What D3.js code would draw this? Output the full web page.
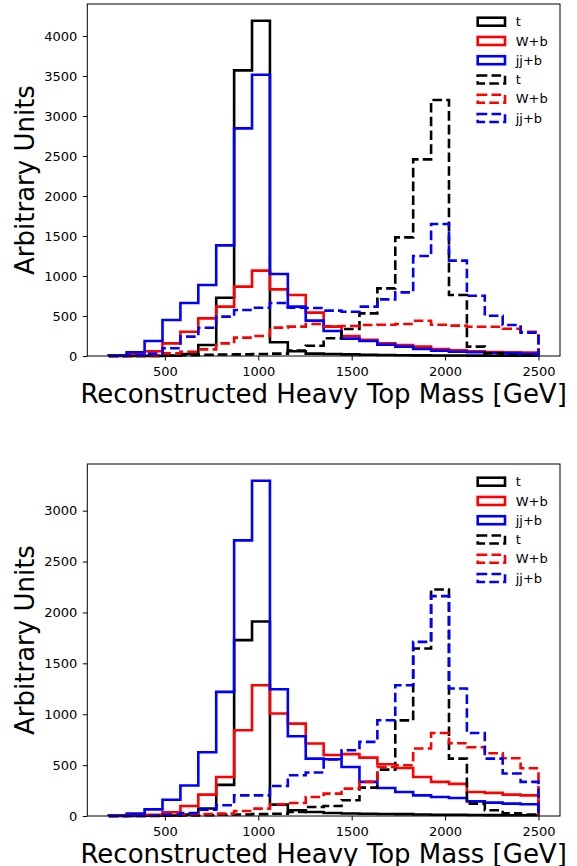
<!DOCTYPE html>
<html>
<head>
<meta charset="utf-8">
<script src="https://cdn.jsdelivr.net/npm/d3@7"></script>
<style>
  html, body { margin: 0; padding: 0; background: #fff; }
  svg { display: block; font-family: "DejaVu Sans", sans-serif; }
</style>
</head>
<body>
<svg id="chart" width="577" height="866"></svg>
<script>
// ---- binning ----
const xMin = 200, xMax = 2500, nBins = 24;
const xTicks = [500, 1000, 1500, 2000, 2500];
const yTicksTop = [0, 500, 1000, 1500, 2000, 2500, 3000, 3500, 4000];
const yTicksBottom = [0, 500, 1000, 1500, 2000, 2500, 3000];
const seriesLabels = ["t", "W+b", "jj+b", "t", "W+b", "jj+b"];

// ---- top panel (counts per bin) ----
const topT    = [0, 0, 2, 5, 25, 137, 729, 3571, 4191, 171, 60, 30, 25, 20, 15, 12, 10, 8, 7, 6, 5, 4, 3, 3];
const topWb   = [5, 30, 60, 158, 304, 471, 617, 867, 1067, 833, 762, 542, 367, 250, 204, 158, 137, 117, 87, 71, 58, 50, 46, 42];
const topJjb  = [10, 46, 187, 450, 662, 887, 1383, 2846, 3517, 1025, 617, 442, 312, 217, 187, 142, 117, 87, 67, 54, 46, 37, 33, 29];
const topTd   = [0, 0, 0, 5, 10, 15, 18, 20, 25, 30, 67, 129, 221, 337, 533, 846, 1483, 2458, 3200, 762, 117, 33, 10, 5];
const topWbd  = [0, 0, 5, 33, 54, 83, 158, 230, 250, 355, 367, 400, 370, 375, 387, 390, 400, 440, 390, 380, 365, 365, 340, 304];
const topJjbd = [0, 10, 30, 96, 242, 354, 492, 575, 604, 662, 604, 600, 567, 554, 617, 708, 796, 1250, 1650, 1192, 754, 504, 387, 292];

// ---- bottom panel ----
const botT    = [0, 0, 2, 5, 15, 73, 306, 1728, 1911, 112, 56, 39, 30, 25, 22, 20, 18, 15, 13, 12, 10, 9, 8, 7];
const botWb   = [2, 7, 13, 37, 98, 210, 383, 842, 1285, 1007, 908, 712, 600, 608, 574, 509, 472, 383, 335, 316, 236, 227, 210, 203];
const botJjb  = [5, 23, 65, 160, 299, 626, 1220, 2708, 3294, 1246, 784, 564, 557, 482, 335, 275, 236, 203, 187, 177, 144, 131, 122, 115];
const botTd   = [0, 0, 0, 2, 5, 8, 12, 15, 18, 22, 39, 88, 98, 155, 279, 456, 940, 1646, 2226, 564, 122, 56, 27, 15];
const botWbd  = [0, 2, 5, 10, 17, 20, 23, 49, 72, 115, 128, 187, 220, 269, 335, 482, 498, 663, 816, 715, 675, 616, 567, 469];
const botJjbd = [0, 2, 5, 15, 30, 63, 105, 203, 203, 295, 400, 427, 555, 646, 728, 941, 1285, 1711, 2160, 1253, 816, 564, 417, 335];

// ---- styling ----
const colors = ["#000000", "#ff0000", "#0000ff", "#000000", "#ff0000", "#0000ff"];
const dashed = [false, false, false, true, true, true];
const LW = 2.6;
const DASH = "9.6,4.2";
const FONT_TICK = 13, FONT_LABEL = 26;

const svg = d3.select("#chart");
const binW = (xMax - xMin) / nBins;
const edges = d3.range(nBins + 1).map(i => xMin + i * binW);

const left = 87.3, right = 560;
const pad = (xMax - xMin) * 0.05;
const x = d3.scaleLinear().domain([xMin - pad, xMax + pad]).range([left, right]);

const panels = [
  { top: 4, bottom: 356, yTicks: yTicksTop, series: [topT, topWb, topJjb, topTd, topWbd, topJjbd] },
  { top: 464, bottom: 816, yTicks: yTicksBottom, series: [botT, botWb, botJjb, botTd, botWbd, botJjbd] }
];

panels.forEach(p => {
  const maxV = d3.max(p.series.flat());
  const y = d3.scaleLinear().domain([0, maxV * 1.05]).range([p.bottom, p.top]);
  const g = svg.append("g");

  // histograms (step outlines)
  const line = d3.line().x(d => x(d[0])).y(d => y(d[1]));
  p.series.forEach((vals, si) => {
    const pts = [[edges[0], 0]];
    vals.forEach((v, i) => { pts.push([edges[i], v]); pts.push([edges[i + 1], v]); });
    pts.push([edges[nBins], 0]);
    g.append("path")
      .attr("d", line(pts))
      .attr("fill", "none")
      .attr("stroke", colors[si])
      .attr("stroke-width", LW)
      .attr("stroke-linejoin", "miter")
      .attr("stroke-dasharray", dashed[si] ? DASH : null);
  });

  // axes
  const xAxis = g.append("g").attr("transform", `translate(0,${p.bottom})`)
    .call(d3.axisBottom(x).tickValues(xTicks).tickSize(4.5).tickPadding(6).tickFormat(d3.format("d")));
  const yAxis = g.append("g").attr("transform", `translate(${left},0)`)
    .call(d3.axisLeft(y).tickValues(p.yTicks).tickSize(4.5).tickPadding(5.5).tickFormat(d3.format("d")));
  [xAxis, yAxis].forEach(a => {
    a.select(".domain").remove();
    a.selectAll("line").attr("stroke", "#000").attr("stroke-width", 1);
    a.selectAll("text").attr("font-size", FONT_TICK).attr("fill", "#000").attr("font-family", "DejaVu Sans");
  });

  // spines
  g.append("rect")
    .attr("x", left).attr("y", p.top)
    .attr("width", right - left).attr("height", p.bottom - p.top)
    .attr("fill", "none").attr("stroke", "#000").attr("stroke-width", 1);

  // axis labels
  g.append("text")
    .attr("x", (left + right) / 2).attr("y", p.bottom + 46.7)
    .attr("text-anchor", "middle").attr("font-size", FONT_LABEL)
    .text("Reconstructed Heavy Top Mass [GeV]");
  g.append("text")
    .attr("transform", `translate(33.7,${(p.top + p.bottom) / 2}) rotate(-90)`)
    .attr("text-anchor", "middle").attr("font-size", FONT_LABEL)
    .text("Arbitrary Units");

  // legend
  const lg = g.append("g");
  seriesLabels.forEach((lab, i) => {
    const cy = p.top + 17.7 + i * 19.26;
    lg.append("rect")
      .attr("x", 477.7).attr("y", cy - 4).attr("width", 27.3).attr("height", 8)
      .attr("fill", "none").attr("stroke", colors[i]).attr("stroke-width", LW)
      .attr("stroke-dasharray", dashed[i] ? DASH : null);
    lg.append("text")
      .attr("x", 515.7).attr("y", cy + 4.7)
      .attr("font-size", FONT_TICK).text(lab);
  });
});
</script>
</body>
</html>
